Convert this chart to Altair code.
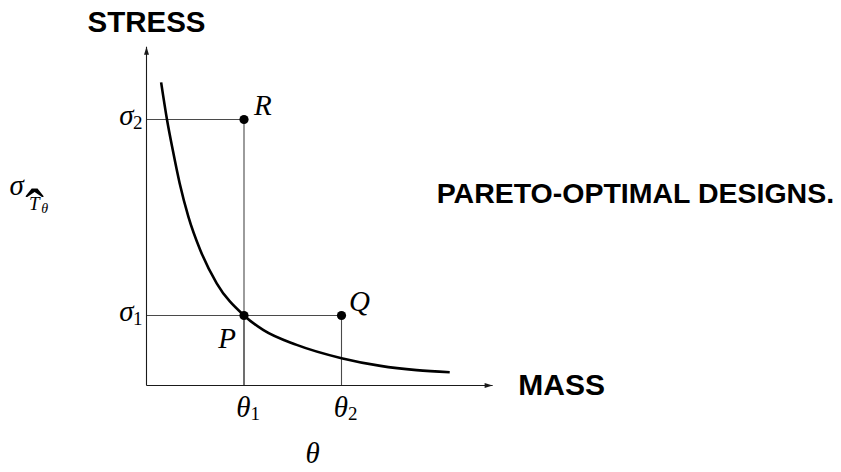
import altair as alt
import pandas as pd

# ---- data (x: mass units, theta1 = 1; y: stress units, sigma1 = 1)
curve_x = [0.15, 0.21, 0.27, 0.34, 0.43, 0.55, 0.72, 1.0, 1.2, 1.54, 2.0, 2.4, 2.77, 3.11]
curve_y = [4.33, 3.80, 3.36, 2.89, 2.41, 1.94, 1.46, 1.0, 0.79, 0.58, 0.39, 0.28, 0.22, 0.19]

point_names = ["R", "P", "Q"]
point_x = [1.0, 1.0, 2.0]
point_y = [3.8, 1.0, 1.0]

theta_ticks = [1.0, 2.0]
theta_subs = ["1", "2"]
sigma_ticks = [1.0, 3.8]
sigma_subs = ["1", "2"]

axis_x_end = 3.55
axis_y_end = 4.84

# ---- tables
curve = pd.DataFrame({"x": curve_x, "y": curve_y})
pts = pd.DataFrame({"name": point_names, "x": point_x, "y": point_y, "zero": 0.0})
theta_df = pd.DataFrame({"x": theta_ticks, "y": 0.0, "g": "θ", "s": theta_subs})
sigma_df = pd.DataFrame({"x": 0.0, "y": sigma_ticks, "g": "σ", "s": sigma_subs})
axes_df = pd.DataFrame({"x": [0.0, 0.0], "y": [0.0, 0.0],
                        "x2": [axis_x_end, 0.0], "y2": [0.0, axis_y_end]})
heads_df = pd.DataFrame({"x": [axis_x_end, 0.0], "y": [0.0, axis_y_end], "dir": ["r", "u"]})

X = alt.Scale(domain=[-1.4205, 7.041], nice=False, zero=False)
Y = alt.Scale(domain=[-1.1214, 5.3929], nice=False, zero=False)

def xq(f="x"):
    return alt.X(f"{f}:Q", scale=X, axis=None)

def yq(f="y"):
    return alt.Y(f"{f}:Q", scale=Y, axis=None)

MATH = "Liberation Serif"
SANS = "Liberation Sans"
GUIDE = "#4a4a4a"
AX = "#1a1a1a"

base = alt.Chart(pts)

guides_h = base.mark_rule(color=GUIDE, strokeWidth=1.1).encode(
    x=alt.X("zero:Q", scale=X, axis=None), x2="x:Q", y=yq())
guides_v = base.mark_rule(color=GUIDE, strokeWidth=1.1).encode(
    x=xq(), y=alt.Y("zero:Q", scale=Y, axis=None), y2="y:Q")

axes = alt.Chart(axes_df).mark_rule(color=AX, strokeWidth=1.1).encode(
    x=xq(), x2="x2:Q", y=yq(), y2="y2:Q")

head_r = alt.Chart(heads_df).transform_filter("datum.dir == 'r'").mark_point(
    shape="M1,0L-0.6,0.5L-0.6,-0.5Z", size=100, filled=True, color=AX, opacity=1, xOffset=-5
).encode(x=xq(), y=yq())
head_u = alt.Chart(heads_df).transform_filter("datum.dir == 'u'").mark_point(
    shape="M0,-1L0.5,0.6L-0.5,0.6Z", size=100, filled=True, color=AX, opacity=1, yOffset=5
).encode(x=xq(), y=yq())

line = alt.Chart(curve).mark_line(color="black", strokeWidth=2.6, interpolate="monotone").encode(
    x=xq(), y=yq(), order="x:Q")

dots = base.mark_point(filled=True, color="black", size=85, opacity=1).encode(x=xq(), y=yq())

# point labels
lab_off = {"R": (10, -4.5, "left"), "P": (-8, 32.5, "right"), "Q": (7.5, -4.5, "left")}
pt_labels = []
for n in point_names:
    dx, dy, al = lab_off[n]
    pt_labels.append(
        base.transform_filter(f"datum.name == '{n}'").mark_text(
            font=MATH, fontStyle="italic", fontSize=29, align=al, baseline="alphabetic",
            dx=dx, dy=dy, color="black"
        ).encode(x=xq(), y=yq(), text="name:N")
    )

# tick labels
theta_main = alt.Chart(theta_df).mark_text(
    font=MATH, fontStyle="italic", fontSize=29, align="right", baseline="alphabetic",
    dx=6.5, dy=31.5, color="black").encode(x=xq(), y=yq(), text="g:N")
theta_sub = alt.Chart(theta_df).mark_text(
    font=MATH, fontSize=19, align="left", baseline="alphabetic",
    dx=6.5, dy=34, color="black").encode(x=xq(), y=yq(), text="s:N")
sigma_main = alt.Chart(sigma_df).mark_text(
    font=MATH, fontStyle="italic", fontSize=29, align="right", baseline="alphabetic",
    dx=-13, dy=5.8, color="black").encode(x=xq(), y=yq(), text="g:N")
sigma_sub = alt.Chart(sigma_df).mark_text(
    font=MATH, fontSize=19, align="left", baseline="alphabetic",
    dx=-13.5, dy=9.5, color="black").encode(x=xq(), y=yq(), text="s:N")

# titles / annotations
def txt(x, y, s, **kw):
    return alt.Chart(pd.DataFrame({"x": [x], "y": [y], "t": [s]})).mark_text(
        color="black", baseline="alphabetic", **kw).encode(x=xq(), y=yq(), text="t:N")

stress = txt(0.0, 5.054, "STRESS", font=SANS, fontWeight="bold", fontSize=29.5, align="center")
mass = txt(3.813, -0.136, "MASS", font=SANS, fontWeight="bold", fontSize=30, align="left")
pareto = txt(2.976, 2.603, "PARETO-OPTIMAL DESIGNS.", font=SANS, fontWeight="bold",
             fontSize=28.5, align="left")
xlab = txt(1.703, -1.10, "θ", font=MATH, fontStyle="italic", fontSize=29, align="center")
ylab_s = txt(-1.405, 2.721, "σ", font=MATH, fontStyle="italic", fontSize=29, align="left")
ylab_T = txt(-1.205, 2.51, "T", font=MATH, fontStyle="italic", fontSize=19, align="left")
ylab_hat = txt(-1.148, 2.25, "ˆ", font=MATH, fontSize=56, align="center")
ylab_th = txt(-1.08, 2.465, "θ", font=MATH, fontStyle="italic", fontSize=14, align="left")

chart = alt.layer(
    guides_h, guides_v, axes, head_r, head_u, line, dots, *pt_labels,
    theta_main, theta_sub, sigma_main, sigma_sub,
    stress, mass, pareto, xlab, ylab_s, ylab_T, ylab_hat, ylab_th,
).properties(
    width=825, height=456, autosize=alt.AutoSizeParams(type="none"), padding=0,
    background="white",
).configure_view(strokeWidth=0)

chart.save("out.html", embed_options={"renderer": "svg", "actions": False})
